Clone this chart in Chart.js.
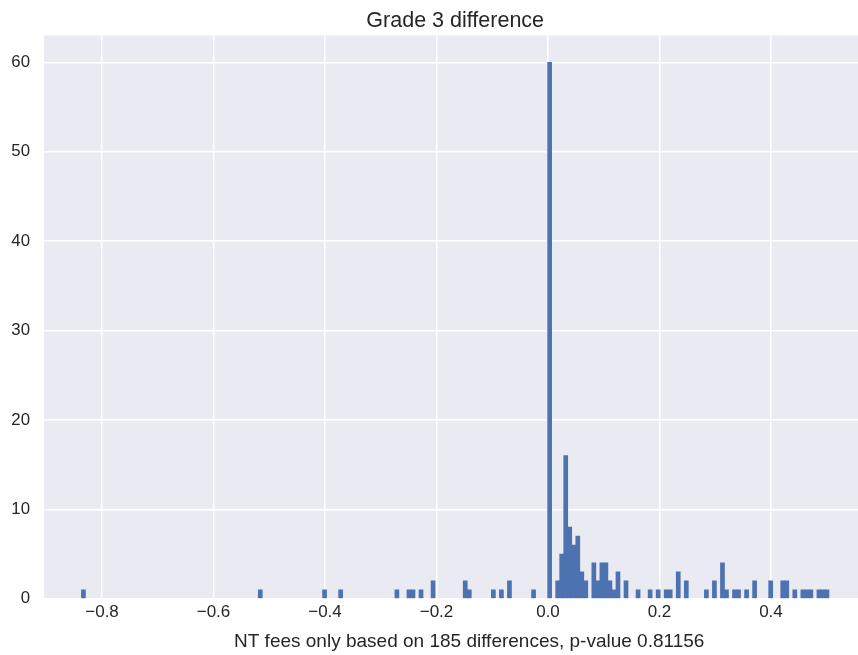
<!DOCTYPE html>
<html>
<head>
<meta charset="utf-8">
<script src="https://cdn.jsdelivr.net/npm/chart.js@4"></script>
<style>
  html, body { margin: 0; padding: 0; background: #fff; overflow: hidden; }
  #wrap { width: 880px; height: 655px; position: relative; }
</style>
</head>
<body>
<div id="wrap"><canvas id="histChart"></canvas></div>
<script>
// histogram bins: first bin edge and width (data units)
const binLo = -0.8370;
const binWidth = 0.00721;

// non-empty bins: index of the bin and its count
const binIndex = [0, 44, 60, 64, 78, 81, 82, 84, 87, 95, 96, 102, 104, 106, 112,
  116, 118, 119, 120, 121, 122, 123, 124, 125, 127, 128, 129, 130, 131, 132, 133,
  135, 138, 141, 143, 145, 146, 148, 150, 155, 157, 159, 160, 162, 163, 165, 167,
  171, 174, 175, 177, 179, 180, 181, 183, 184, 185];
const binCount = [1, 1, 1, 1, 1, 1, 1, 1, 2, 2, 1, 1, 1, 2, 1,
  60, 2, 5, 16, 8, 6, 7, 3, 2, 4, 2, 4, 4, 2, 1, 3,
  2, 1, 1, 1, 1, 1, 3, 2, 1, 2, 4, 1, 1, 1, 1, 2,
  2, 2, 2, 1, 1, 1, 1, 1, 1, 1];

const xTicks = [-0.8, -0.6, -0.4, -0.2, 0.0, 0.2, 0.4];
const yTicks = [0, 10, 20, 30, 40, 50, 60];
const xRange = [-0.9041, 0.5712];
const yRange = [0, 63];

const titleText = "Grade 3 difference";
const xLabelText = "NT fees only based on 185 differences, p-value 0.81156";

const fontFamily = '"Liberation Sans", Arial, sans-serif';
const textColor = "#262626";

const points = binIndex.map((b, i) => ({
  x: binLo + (b + 0.5) * binWidth,
  y: binCount[i],
}));

const plotBackground = {
  id: "plotBackground",
  beforeDraw(chart) {
    const { ctx, chartArea: a } = chart;
    ctx.save();
    ctx.fillStyle = "#EAEAF2";
    ctx.fillRect(a.left, a.top, a.right - a.left, a.bottom - a.top);
    ctx.restore();
  },
};

// x label sits a little right of the plot centre in the original
const xLabel = {
  id: "xLabel",
  afterDraw(chart) {
    const { ctx, chartArea: a } = chart;
    ctx.save();
    ctx.font = "19px " + fontFamily;
    ctx.fillStyle = textColor;
    ctx.textAlign = "center";
    ctx.textBaseline = "middle";
    ctx.fillText(xLabelText, (a.left + a.right) / 2 + 14, 642);
    ctx.restore();
  },
};

const fmt = (v) => v.toFixed(1).replace("-", "\u2212");

new Chart(document.getElementById("histChart"), {
  type: "bar",
  data: {
    datasets: [
      {
        data: points,
        backgroundColor: "#4C72B0",
        borderWidth: 0,
        barPercentage: 1,
        categoryPercentage: 1,
      },
    ],
  },
  options: {
    responsive: true,
    maintainAspectRatio: false,
    animation: false,
    layout: { padding: { left: 0, right: 13.6, top: 0, bottom: 0 } },
    plugins: {
      legend: { display: false },
      tooltip: { enabled: false },
      title: { display: false },
    },
    scales: {
      x: {
        type: "linear",
        min: xRange[0],
        max: xRange[1],
        offset: false,
        afterBuildTicks: (axis) => {
          axis.ticks = xTicks.map((v) => ({ value: v }));
        },
        afterFit: (axis) => {
          axis.height = 56.3;
        },
        grid: { color: "#FFFFFF", lineWidth: 1.5, offset: false, drawTicks: false },
        border: { display: false },
        ticks: {
          autoSkip: false,
          maxRotation: 0,
          padding: 3,
          color: textColor,
          font: { family: fontFamily, size: 17 },
          callback: (v) => fmt(v),
        },
      },
      // top axis only carries the title, centred over the plot
      xTop: {
        type: "linear",
        position: "top",
        min: xRange[0],
        max: xRange[1],
        offset: false,
        afterFit: (axis) => {
          axis.height = 35.5;
        },
        grid: { display: false, drawTicks: false },
        border: { display: false },
        ticks: { display: false },
        title: {
          display: true,
          text: titleText,
          color: textColor,
          font: { family: fontFamily, size: 21.5 },
          padding: { top: 7.8, bottom: 0 },
        },
      },
      y: {
        min: yRange[0],
        max: yRange[1],
        afterBuildTicks: (axis) => {
          axis.ticks = yTicks.map((v) => ({ value: v }));
        },
        afterFit: (axis) => {
          axis.width = 44;
        },
        grid: { color: "#FFFFFF", lineWidth: 1.5, drawTicks: false },
        border: { display: false },
        ticks: {
          padding: 14,
          color: textColor,
          font: { family: fontFamily, size: 16.8 },
        },
      },
    },
  },
  plugins: [plotBackground, xLabel],
});
</script>
</body>
</html>
